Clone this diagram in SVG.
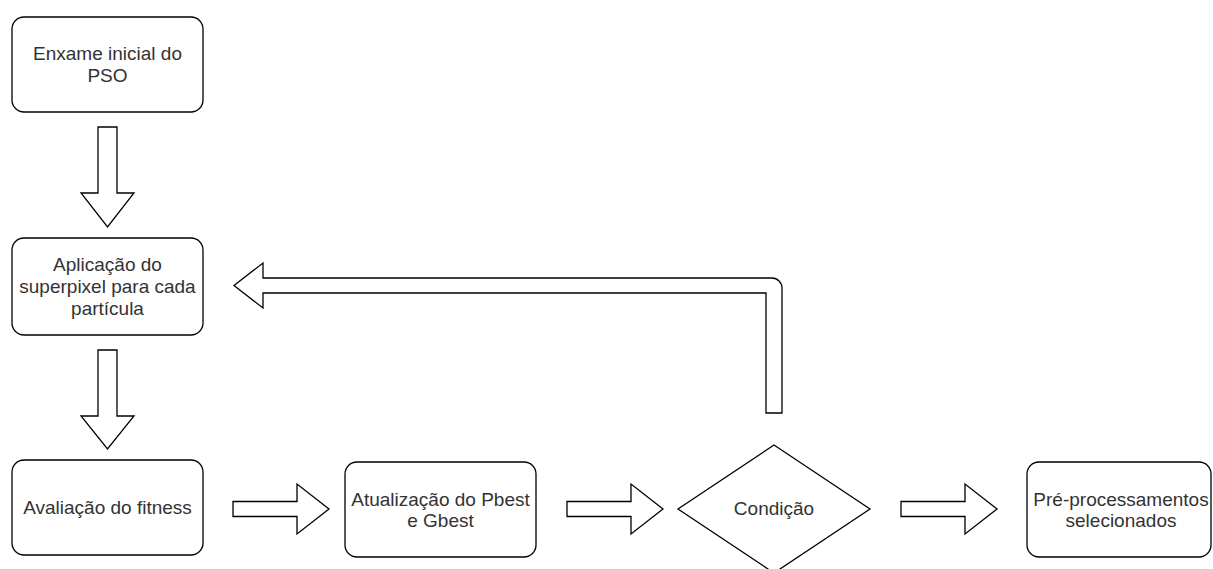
<svg xmlns="http://www.w3.org/2000/svg" width="1213" height="569" viewBox="0 0 1213 569">
<style>
.box{fill:#fff;stroke:#000;stroke-width:1.3}
.arr{fill:#fff;stroke:#000;stroke-width:1.3;stroke-linejoin:miter}
.t{font-family:"Liberation Sans",Arial,sans-serif;font-size:19px;fill:#333;text-anchor:middle}
</style>
<rect width="1213" height="569" fill="#fff"/>
<g id="connectors">
<path class="arr" d="M98,127 H117 V193 H134 L107.5,227 L81,193 H98 Z"/>
<path class="arr" d="M98,350 H117 V416 H134 L107.5,449 L81,416 H98 Z"/>
<path class="arr" d="M233,501.5 H297 V484 L329,509 L297,534 V516.5 H233 Z"/>
<path class="arr" d="M567,501.5 H631 V484 L663,509 L631,534 V516.5 H567 Z"/>
<path class="arr" d="M901,501.5 H965 V484 L997,509 L965,534 V516.5 H901 Z"/>
<path class="arr" d="M766,413 V293 H263 V308 L234,285.5 L263,263 V278 H772 A10,10 0 0 1 782,288 V413 Z"/>
</g>
<g id="n1">
<rect class="box" x="12" y="17" width="191" height="95" rx="12"/>
<text class="t" x="107.5" y="60">Enxame inicial do</text>
<text class="t" x="107.5" y="82">PSO</text>
</g>
<g id="n2">
<rect class="box" x="12" y="238" width="191" height="97" rx="12"/>
<text class="t" x="107.5" y="271">Aplicação do</text>
<text class="t" x="107.5" y="293">superpixel para cada</text>
<text class="t" x="107.5" y="315">partícula</text>
</g>
<g id="n3">
<rect class="box" x="12" y="460" width="191" height="95" rx="12"/>
<text class="t" x="107.5" y="514">Avaliação do fitness</text>
</g>
<g id="n4">
<rect class="box" x="345" y="462" width="191" height="95" rx="12"/>
<text class="t" x="440.5" y="506">Atualização do Pbest</text>
<text class="t" x="440.5" y="527">e Gbest</text>
</g>
<g id="n5">
<path class="box" d="M774,445 L870,509 L774,573 L678,509 Z"/>
<text class="t" x="774" y="515">Condição</text>
</g>
<g id="n6">
<rect class="box" x="1027" y="462" width="184" height="95" rx="12"/>
<text class="t" x="1121" y="506">Pré-processamentos</text>
<text class="t" x="1121" y="527">selecionados</text>
</g>
</svg>
